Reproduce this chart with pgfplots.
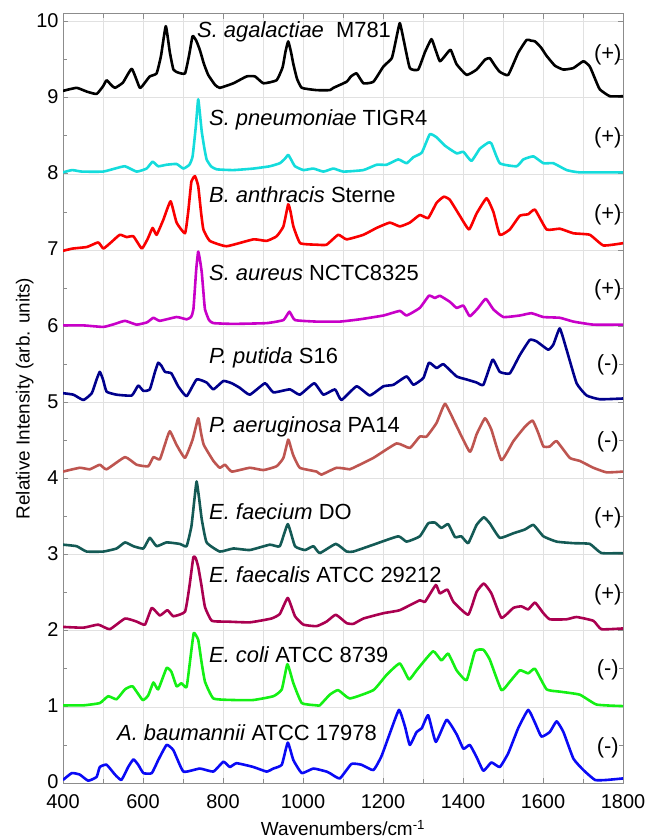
\documentclass[border=0pt]{standalone}
\usepackage{pgfplots}
\pgfplotsset{compat=1.18}
\usepackage{fontspec}
\setmainfont{Liberation Sans}
\definecolor{cS1}{RGB}{0,0,0}
\definecolor{cS2}{RGB}{20,220,220}
\definecolor{cS3}{RGB}{250,0,0}
\definecolor{cS4}{RGB}{200,0,200}
\definecolor{cS5}{RGB}{0,0,140}
\definecolor{cS6}{RGB}{190,85,80}
\definecolor{cS7}{RGB}{20,90,85}
\definecolor{cS8}{RGB}{170,0,80}
\definecolor{cS9}{RGB}{20,240,20}
\definecolor{cS10}{RGB}{10,10,245}
\definecolor{axgray}{RGB}{140,140,140}
\definecolor{gridgray}{RGB}{225,225,225}
\begin{document}
\begin{tikzpicture}
\useasboundingbox (0,0) rectangle (648bp,839bp);
\begin{axis}[
  at={(63bp,56bp)}, anchor=south west,
  width=560bp, height=769bp, scale only axis,
  xmin=400, xmax=1800, ymin=0, ymax=10.1,
  xtick={400,600,...,1800}, ytick={0,1,...,10},
  minor x tick num=1, minor y tick num=1,
  xmajorgrids, xminorgrids, ymajorgrids,
  grid style={gridgray, line width=0.6bp},
  minor grid style={gridgray, line width=0.6bp},
  axis line style={axgray, line width=1bp},
  tick style={axgray, line width=0.8bp},
  major tick length=5bp, minor tick length=4bp,
  tick align=inside,
  /pgf/number format/assume math mode=true,
  /pgf/number format/1000 sep={},
  ticklabel style={font=\fontsize{20}{22}\selectfont},
  xticklabel style={yshift=-8bp},
  yticklabel style={xshift=-1bp, yshift=1bp},
  xlabel={Wavenumbers/cm\textsuperscript{-1}},
  ylabel={Relative Intensity (arb. units)},
  label style={font=\fontsize{19}{22}\selectfont},
  xlabel style={at={(axis description cs:0.5,0)}, anchor=center, yshift=-45bp},
  ylabel style={yshift=-4bp},
  every axis plot/.append style={line width=2.6bp, line join=round, smooth, tension=0.25},
]
\addplot[cS1] coordinates {(400,9.09)(434,9.13)(460,9.08)(484,9.05)(500,9.15)(509,9.23)(520,9.17)(530,9.13)(550,9.2)(572,9.38)(592,9.13)(605,9.2)(617,9.28)(634,9.32)(645,9.55)(657,9.94)(667,9.6)(676,9.37)(688,9.33)(705,9.32)(715,9.55)(724,9.81)(733,9.75)(742,9.63)(752,9.45)(763,9.30)(780,9.17)(792,9.13)(826,9.19)(859,9.28)(880,9.28)(901,9.19)(934,9.23)(949,9.40)(956,9.6)(963,9.74)(970,9.6)(976,9.44)(985,9.25)(997,9.13)(1034,9.10)(1067,9.10)(1076,9.13)(1109,9.21)(1120,9.28)(1134,9.32)(1151,9.19)(1176,9.21)(1201,9.41)(1222,9.52)(1232,9.75)(1242,9.98)(1252,9.75)(1267,9.39)(1288,9.37)(1305,9.6)(1321,9.77)(1330,9.65)(1342,9.48)(1355,9.55)(1369,9.63)(1384,9.44)(1409,9.30)(1434,9.37)(1455,9.5)(1467,9.52)(1480,9.42)(1492,9.34)(1513,9.30)(1538,9.59)(1559,9.76)(1570,9.75)(1580,9.74)(1595,9.66)(1609,9.55)(1630,9.42)(1651,9.37)(1676,9.39)(1701,9.48)(1717,9.41)(1730,9.25)(1742,9.11)(1767,9.02)(1800,9.02)};
\addplot[cS2] coordinates {(400,8.02)(423,8.05)(447,8.03)(500,8.03)(530,8.07)(555,8.10)(584,8.03)(609,8.07)(624,8.16)(638,8.10)(659,8.12)(684,8.13)(701,8.07)(716,8.12)(724,8.23)(732,8.62)(738,8.98)(744,8.7)(747,8.55)(753,8.35)(759,8.19)(770,8.1)(784,8.06)(826,8.05)(876,8.07)(917,8.10)(942,8.14)(955,8.2)(963,8.25)(971,8.18)(980,8.10)(1001,8.05)(1026,8.07)(1051,8.03)(1076,8.07)(1101,8.03)(1151,8.05)(1184,8.12)(1209,8.12)(1238,8.19)(1259,8.14)(1276,8.22)(1297,8.28)(1317,8.52)(1334,8.48)(1355,8.37)(1384,8.27)(1401,8.29)(1421,8.17)(1442,8.33)(1463,8.41)(1471,8.40)(1492,8.14)(1534,8.10)(1551,8.19)(1576,8.23)(1601,8.14)(1626,8.14)(1659,8.05)(1692,8.02)(1800,8.02)};
\addplot[cS3] coordinates {(400,6.99)(425,7.02)(460,7.04)(488,7.10)(501,7.02)(520,7.1)(542,7.20)(559,7.17)(576,7.18)(597,7.02)(612,7.15)(624,7.29)(634,7.20)(651,7.40)(669,7.64)(684,7.36)(705,7.22)(713,7.5)(721,7.90)(730,7.97)(738,7.84)(745,7.5)(751,7.27)(767,7.12)(809,7.05)(876,7.14)(909,7.12)(934,7.18)(951,7.31)(963,7.60)(969,7.5)(976,7.31)(993,7.09)(1034,7.07)(1059,7.07)(1088,7.20)(1109,7.14)(1151,7.20)(1184,7.29)(1217,7.36)(1242,7.31)(1267,7.36)(1292,7.46)(1313,7.42)(1334,7.62)(1352,7.70)(1367,7.66)(1392,7.45)(1415,7.27)(1434,7.48)(1459,7.68)(1476,7.50)(1492,7.20)(1517,7.27)(1542,7.45)(1563,7.47)(1580,7.53)(1609,7.27)(1642,7.28)(1676,7.22)(1717,7.20)(1751,7.06)(1800,7.09)};
\addplot[cS4] coordinates {(400,6.01)(451,6.01)(501,5.99)(530,6.03)(555,6.07)(584,6.02)(610,6.05)(626,6.11)(642,6.07)(684,6.12)(709,6.09)(720,6.12)(726,6.22)(733,6.74)(738,6.98)(743,6.85)(747,6.70)(751,6.45)(755,6.22)(765,6.08)(776,6.04)(826,6.03)(909,6.04)(951,6.08)(966,6.19)(980,6.08)(1034,6.06)(1092,6.06)(1142,6.09)(1201,6.14)(1242,6.20)(1259,6.14)(1292,6.24)(1315,6.40)(1330,6.37)(1342,6.40)(1367,6.32)(1384,6.24)(1401,6.27)(1417,6.13)(1438,6.24)(1457,6.36)(1476,6.22)(1501,6.12)(1542,6.14)(1571,6.17)(1601,6.12)(1642,6.11)(1676,6.06)(1726,6.02)(1800,6.02)};
\addplot[cS5] coordinates {(400,5.12)(426,5.10)(451,5.03)(472,5.12)(484,5.3)(492,5.40)(500,5.3)(509,5.14)(534,5.10)(572,5.09)(588,5.22)(601,5.15)(617,5.17)(630,5.4)(638,5.52)(646,5.48)(655,5.40)(671,5.38)(688,5.21)(709,5.08)(734,5.30)(759,5.26)(776,5.17)(801,5.28)(822,5.25)(842,5.19)(867,5.10)(905,5.25)(926,5.13)(967,5.17)(992,5.10)(1028,5.25)(1051,5.10)(1080,5.17)(1096,5.03)(1134,5.21)(1167,5.09)(1201,5.21)(1226,5.23)(1259,5.34)(1276,5.23)(1301,5.32)(1315,5.52)(1334,5.45)(1351,5.50)(1384,5.34)(1409,5.30)(1434,5.26)(1451,5.23)(1474,5.56)(1492,5.40)(1517,5.38)(1542,5.62)(1567,5.82)(1584,5.80)(1613,5.69)(1626,5.76)(1642,5.97)(1659,5.69)(1684,5.25)(1709,5.09)(1742,5.04)(1800,5.05)};
\addplot[cS6] coordinates {(400,4.09)(442,4.14)(467,4.12)(492,4.18)(509,4.12)(555,4.28)(584,4.18)(613,4.16)(626,4.28)(642,4.25)(655,4.45)(667,4.62)(684,4.44)(705,4.27)(724,4.51)(738,4.79)(745,4.6)(752,4.44)(776,4.23)(792,4.14)(805,4.18)(822,4.09)(867,4.14)(901,4.11)(934,4.16)(951,4.27)(963,4.51)(970,4.4)(976,4.30)(992,4.14)(1034,4.09)(1046,4.05)(1084,4.14)(1117,4.12)(1126,4.14)(1176,4.27)(1234,4.46)(1267,4.40)(1292,4.55)(1309,4.55)(1334,4.73)(1355,4.98)(1380,4.73)(1417,4.35)(1434,4.58)(1455,4.79)(1471,4.64)(1496,4.24)(1526,4.49)(1555,4.68)(1574,4.76)(1588,4.60)(1601,4.42)(1617,4.42)(1634,4.49)(1667,4.27)(1692,4.23)(1726,4.14)(1759,4.08)(1800,4.09)};
\addplot[cS7] coordinates {(400,3.13)(434,3.11)(459,3.04)(501,3.04)(534,3.08)(555,3.16)(576,3.11)(601,3.08)(617,3.22)(634,3.11)(659,3.16)(692,3.14)(709,3.11)(721,3.37)(728,3.7)(734,3.96)(740,3.75)(747,3.46)(759,3.16)(792,3.04)(826,3.08)(867,3.06)(917,3.13)(942,3.11)(962,3.40)(980,3.11)(1005,3.06)(1026,3.11)(1042,3.02)(1082,3.14)(1109,3.04)(1126,3.04)(1176,3.13)(1238,3.24)(1259,3.17)(1292,3.24)(1313,3.41)(1330,3.42)(1346,3.35)(1363,3.40)(1380,3.23)(1396,3.24)(1413,3.15)(1434,3.39)(1452,3.49)(1467,3.41)(1492,3.22)(1526,3.28)(1555,3.33)(1576,3.39)(1601,3.24)(1634,3.17)(1676,3.15)(1717,3.14)(1746,3.02)(1800,3.02)};
\addplot[cS8] coordinates {(400,2.05)(451,2.04)(488,2.08)(517,2.02)(555,2.16)(584,2.12)(605,2.08)(622,2.30)(642,2.20)(661,2.27)(676,2.19)(705,2.25)(716,2.58)(726,2.97)(732,2.95)(738,2.84)(746,2.6)(755,2.31)(772,2.13)(809,2.12)(867,2.11)(921,2.16)(942,2.22)(962,2.43)(980,2.19)(1001,2.08)(1034,2.06)(1059,2.12)(1082,2.21)(1109,2.10)(1126,2.09)(1151,2.16)(1201,2.23)(1242,2.27)(1292,2.40)(1305,2.38)(1332,2.60)(1342,2.49)(1361,2.54)(1376,2.38)(1413,2.21)(1434,2.51)(1452,2.62)(1471,2.49)(1496,2.17)(1526,2.30)(1546,2.32)(1563,2.28)(1580,2.37)(1601,2.23)(1617,2.15)(1659,2.15)(1684,2.18)(1726,2.13)(1746,2.02)(1800,2.03)};
\addplot[cS9] coordinates {(400,1.02)(451,1.02)(492,1.05)(513,1.14)(534,1.10)(555,1.23)(574,1.27)(599,1.09)(613,1.15)(626,1.32)(638,1.23)(659,1.51)(671,1.46)(684,1.27)(696,1.31)(709,1.26)(719,1.66)(727,1.97)(738,1.88)(746,1.6)(755,1.33)(776,1.11)(826,1.09)(876,1.09)(926,1.14)(947,1.23)(961,1.56)(976,1.31)(997,1.05)(1034,1.02)(1042,1.02)(1067,1.16)(1088,1.22)(1117,1.11)(1176,1.22)(1209,1.42)(1242,1.57)(1265,1.36)(1284,1.48)(1325,1.73)(1346,1.61)(1363,1.70)(1384,1.48)(1409,1.35)(1430,1.73)(1451,1.75)(1467,1.62)(1496,1.22)(1517,1.33)(1542,1.48)(1563,1.44)(1580,1.50)(1609,1.23)(1642,1.20)(1692,1.16)(1734,1.03)(1800,1.01)};
\addplot[cS10] coordinates {(400,0.04)(422,0.13)(442,0.11)(463,0.03)(484,0.08)(492,0.21)(509,0.24)(530,0.11)(546,0.04)(563,0.21)(576,0.31)(588,0.24)(601,0.13)(622,0.13)(638,0.30)(659,0.50)(676,0.43)(701,0.15)(742,0.19)(776,0.15)(801,0.28)(817,0.21)(834,0.26)(876,0.21)(909,0.15)(926,0.19)(947,0.24)(962,0.53)(976,0.30)(997,0.13)(1026,0.19)(1059,0.15)(1067,0.13)(1092,0.06)(1121,0.25)(1146,0.24)(1176,0.17)(1196,0.35)(1217,0.65)(1240,0.96)(1255,0.74)(1267,0.50)(1284,0.67)(1297,0.72)(1313,0.89)(1332,0.54)(1359,0.83)(1384,0.64)(1401,0.45)(1417,0.50)(1434,0.34)(1451,0.16)(1471,0.27)(1492,0.21)(1513,0.39)(1538,0.72)(1563,0.96)(1580,0.79)(1596,0.61)(1617,0.67)(1634,0.81)(1651,0.67)(1676,0.32)(1701,0.17)(1730,0.04)(1759,0.04)(1800,0.06)};
\begin{scope}[every node/.style={anchor=west, inner sep=0pt, font=\fontsize{22}{25}\selectfont}]
\node at (axis cs:735,9.86) {\textit{S. agalactiae}\ \ M781};
\node at (axis cs:765,8.71) {\textit{S. pneumoniae} TIGR4};
\node at (axis cs:765,7.73) {\textit{B. anthracis} Sterne};
\node at (axis cs:765,6.70) {\textit{S. aureus} NCTC8325};
\node at (axis cs:765,5.58) {\textit{P. putida} S16};
\node at (axis cs:765,4.68) {\textit{P. aeruginosa} PA14};
\node at (axis cs:765,3.56) {\textit{E. faecium} DO};
\node at (axis cs:765,2.73) {\textit{E. faecalis} ATCC 29212};
\node at (axis cs:765,1.68) {\textit{E. coli} ATCC 8739};
\node at (axis cs:535,0.66) {\textit{A. baumannii} ATCC 17978};
\end{scope}
\begin{scope}[every node/.style={anchor=center, inner sep=0pt, font=\fontsize{22}{25}\selectfont}]
\node at (axis cs:1762,9.57) {(+)};
\node at (axis cs:1762,8.48) {(+)};
\node at (axis cs:1762,7.46) {(+)};
\node at (axis cs:1762,6.48) {(+)};
\node at (axis cs:1762,5.49) {(-)};
\node at (axis cs:1762,4.48) {(-)};
\node at (axis cs:1762,3.48) {(+)};
\node at (axis cs:1762,2.47) {(+)};
\node at (axis cs:1762,1.48) {(-)};
\node at (axis cs:1762,0.46) {(-)};
\end{scope}
\end{axis}
\end{tikzpicture}
\end{document}
